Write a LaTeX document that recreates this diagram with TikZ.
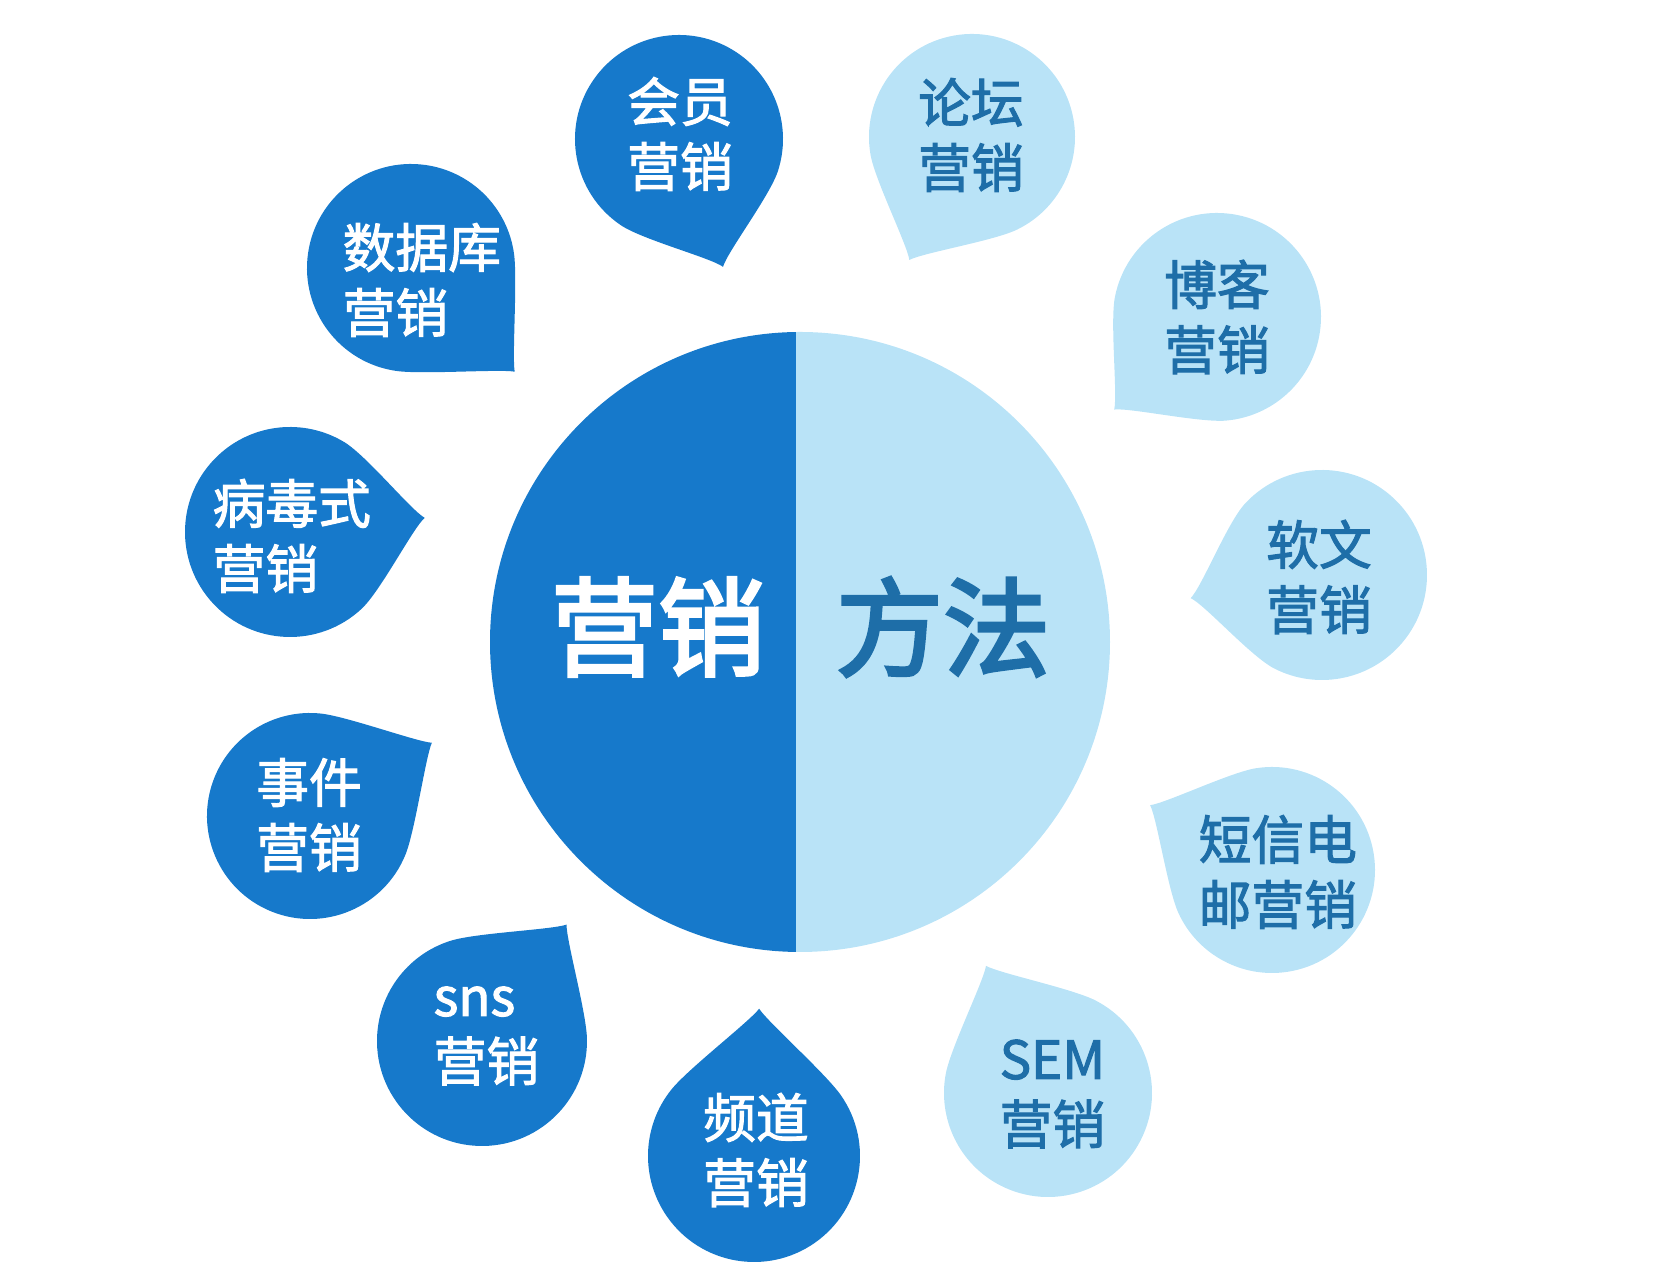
\documentclass[tikz,border=0pt]{standalone}
\usepackage{fontspec}
\setmainfont{Noto Sans CJK SC}
\newfontfamily\medfont{Noto Sans CJK SC}[FakeBold=2]
\newfontfamily\heavyfont{Noto Sans CJK SC}[FakeBold=3]
\usepackage{tikz}
\definecolor{deep}{RGB}{22,121,203}
\definecolor{pale}{RGB}{185,227,247}
\definecolor{ink}{RGB}{30,110,168}
% #1 centre, #2 radius, #3 tail angle, #4 tail length (in radii), #5 colour
\newcommand\bubble[5]{%
  \begin{scope}[shift={#1},rotate=#3]
    \fill[#5] (53:#2) arc[start angle=53,end angle=307,radius=#2]
      .. controls +(37:0.25*#2) and +(215:0.15*#2) .. (#4*#2,0)
      .. controls +(145:0.15*#2) and +(-37:0.25*#2) .. (53:#2) -- cycle;
  \end{scope}}
\tikzset{
  deeptxt/.style={text=white,font=\medfont\fontsize{15}{18.5}\selectfont,align=left,inner sep=0pt},
  paletxt/.style={deeptxt,text=ink},
  bigtxt/.style={font=\heavyfont\fontsize{30.5}{36}\selectfont,inner sep=0pt}
}

\begin{document}
\begin{tikzpicture}[x=0.01cm,y=-0.01cm]
\useasboundingbox (0,0) rectangle (1659,1280);
%\draw[step=50,gray,very thin] (0,0) grid (1659,1280);
%% centre disc
\begin{scope}
\clip (800,642) circle (310);%%
\fill[deep] (480,320) rectangle (796,960);%%
\fill[pale] (796,320) rectangle (1120,960);%%
\end{scope}
\node[bigtxt,text=white] (yx) at (658,627) {营销};%%
\node[bigtxt,text=ink] (ff) at (943,627) {方法};%%
%% left bubbles
\bubble{(679,139)}{104}{-71}{1.30}{deep}%%
\bubble{(411,268)}{104}{-45}{1.41}{deep}%%
\bubble{(290,532)}{105}{6}{1.29}{deep}%%
\bubble{(310,816)}{103}{31}{1.38}{deep}%%
\bubble{(482,1041)}{105}{54}{1.37}{deep}%%
\bubble{(754,1156)}{106}{88}{1.39}{deep}%%
\node[deeptxt] (hy) at (680,134) {会员\\营销};%%
\node[deeptxt,anchor=west] (sjk) at (342,280) {数据库\\营销};%%
\node[deeptxt,anchor=west] (bds) at (212,536) {病毒式\\营销};%%
\node[deeptxt] (sj) at (309,815) {事件\\营销};%%
\node[deeptxt,anchor=west] (sns) at (433,1036) {sns\\营销};%%
\node[deeptxt] (pd) at (756,1150) {频道\\营销};%%
%% right bubbles
\bubble{(972,137)}{103}{-117}{1.34}{pale}%%
\bubble{(1217,317)}{104}{-138}{1.33}{pale}%%
\bubble{(1322,575)}{105}{190}{1.27}{pale}%%
\bubble{(1272,870)}{103}{152}{1.34}{pale}%%
\bubble{(1048,1093)}{104}{116}{1.36}{pale}%%
\node[paletxt] (lt) at (971,135) {论坛\\营销};%%
\node[paletxt] (bk) at (1217,317) {博客\\营销};%%
\node[paletxt] (rw) at (1319,577) {软文\\营销};%%
\node[paletxt,anchor=west] (dx) at (1198,872) {短信电\\邮营销};%%
\node[paletxt,anchor=west] (sem) at (999,1094) {SEM\\营销};%%
\end{tikzpicture}
\end{document}
